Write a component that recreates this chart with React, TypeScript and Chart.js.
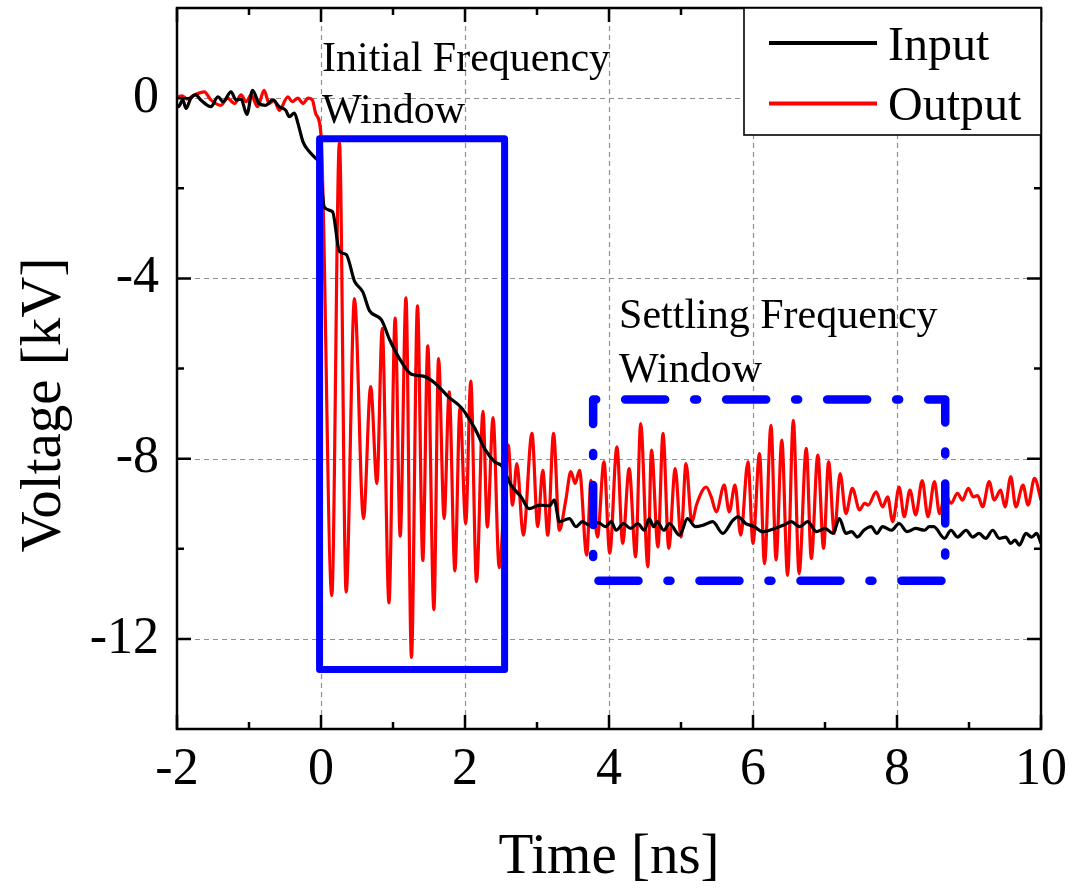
import React, { useEffect, useRef } from 'react';
import { Chart, registerables } from 'chart.js';

Chart.register(...registerables);

const FONT = "'Liberation Serif', 'Times New Roman', Times, serif";

// ---- Data ----
const inputTime = [
  -2.0, -1.98, -1.92, -1.875, -1.81, -1.74, -1.67, -1.53, -1.43, -1.36, -1.25, -1.18, -1.11, -1.03, -0.95,
  -0.86, -0.77, -0.67, -0.58, -0.49, -0.44, -0.37, -0.32, -0.25, -0.16, -0.07, -0.02, 0.046, 0.16, 0.256,
  0.35, 0.465, 0.58, 0.675, 0.84, 0.95, 1.12, 1.256, 1.42, 1.58, 1.77, 1.95, 2.14, 2.28, 2.42, 2.51, 2.64,
  2.78, 2.89, 3.04, 3.17, 3.24, 3.31, 3.45, 3.54, 3.63, 3.72, 3.85, 3.95, 4.03, 4.1, 4.2, 4.3, 4.4, 4.49,
  4.56, 4.62, 4.67, 4.76, 4.84, 4.98, 5.09, 5.2, 5.32, 5.44, 5.58, 5.72, 5.79, 5.9, 6.02, 6.13, 6.3, 6.43,
  6.53, 6.65, 6.76, 6.88, 7.0, 7.11, 7.2, 7.29, 7.37, 7.45, 7.54, 7.64, 7.72, 7.8, 7.92, 8.03, 8.14, 8.26,
  8.38, 8.45, 8.51, 8.66, 8.75, 8.84, 8.96, 9.05, 9.14, 9.23, 9.33, 9.42, 9.51, 9.58, 9.64, 9.7, 9.79, 9.87,
  9.94, 10.0,
];
const inputVoltage = [
  -0.15, -0.19, -0.04, -0.23, -0.01, 0.07, -0.04, -0.19, 0.03, -0.08, 0.14, -0.04, -0.02, -0.36, 0.17,
  -0.12, -0.16, -0.04, -0.19, -0.27, -0.41, -0.33, -0.56, -0.97, -1.19, -1.34, -1.45, -2.42, -2.52, -3.4,
  -3.47, -4.06, -4.3, -4.72, -4.92, -5.35, -5.86, -6.13, -6.17, -6.32, -6.63, -6.87, -7.34, -7.8, -8.08,
  -8.16, -8.59, -8.85, -9.11, -9.03, -9.05, -8.92, -9.4, -9.33, -9.51, -9.4, -9.47, -9.42, -9.51, -9.4,
  -9.59, -9.44, -9.55, -9.44, -9.59, -9.33, -9.51, -9.4, -9.59, -9.44, -9.7, -9.33, -9.51, -9.47, -9.4,
  -9.66, -9.37, -9.29, -9.44, -9.51, -9.62, -9.55, -9.47, -9.4, -9.51, -9.4, -9.62, -9.55, -9.66, -9.33,
  -9.66, -9.62, -9.74, -9.59, -9.51, -9.66, -9.51, -9.59, -9.44, -9.62, -9.55, -9.59, -9.51, -9.51, -9.77,
  -9.59, -9.74, -9.59, -9.74, -9.66, -9.77, -9.59, -9.77, -9.74, -9.88, -9.81, -9.92, -9.66, -9.74, -9.66,
  -9.88,
];

const outputTime = [
  -2.0, -1.93, -1.86, -1.76, -1.62, -1.53, -1.39, -1.3, -1.2, -1.11, -1.04, -0.97, -0.88, -0.79, -0.72,
  -0.65, -0.58, -0.46, -0.4, -0.32, -0.25, -0.18, -0.12, -0.07, 0.0, 0.15, 0.256, 0.349, 0.465, 0.59, 0.69,
  0.777, 0.85, 0.944, 1.03, 1.1, 1.18, 1.256, 1.34, 1.414, 1.483, 1.568, 1.633, 1.71, 1.78, 1.86, 1.93,
  2.01, 2.08, 2.16, 2.25, 2.31, 2.39, 2.475, 2.6, 2.66, 2.72, 2.81, 2.93, 3.01, 3.08, 3.15, 3.23, 3.31,
  3.4, 3.47, 3.53, 3.59, 3.69, 3.75, 3.84, 3.93, 4.01, 4.11, 4.19, 4.28, 4.37, 4.44, 4.54, 4.59, 4.68,
  4.75, 4.83, 4.92, 5.0, 5.07, 5.15, 5.22, 5.35, 5.42, 5.49, 5.6, 5.67, 5.75, 5.83, 5.93, 6.0, 6.09, 6.16,
  6.25, 6.32, 6.4, 6.48, 6.56, 6.64, 6.74, 6.81, 6.9, 6.98, 7.05, 7.13, 7.21, 7.29, 7.38, 7.48, 7.55, 7.6,
  7.71, 7.8, 7.87, 7.94, 8.03, 8.1, 8.18, 8.26, 8.35, 8.43, 8.52, 8.59, 8.67, 8.75, 8.84, 8.91, 8.99, 9.06,
  9.12, 9.19, 9.28, 9.35, 9.44, 9.5, 9.58, 9.65, 9.75, 9.82, 9.91, 10.0,
];
const outputVoltage = [
  0.02, 0.05, -0.02, 0.07, 0.14, -0.04, -0.16, 0.0, -0.12, 0.07, -0.08, 0.07, -0.19, 0.17, -0.12, -0.05,
  -0.27, 0.03, -0.08, 0.0, -0.12, 0.0, -0.04, -0.36, -0.81, -11.04, -0.98, -10.96, -4.45, -9.33, -6.4,
  -8.55, -5.11, -11.2, -4.88, -9.72, -4.43, -12.41, -4.61, -10.26, -5.5, -11.35, -5.78, -9.33, -6.52,
  -10.49, -6.87, -9.44, -6.28, -10.73, -6.95, -9.52, -7.09, -10.42, -7.7, -9.03, -8.11, -9.7, -7.44,
  -9.51, -8.26, -9.7, -7.44, -9.59, -8.92, -8.29, -8.55, -8.26, -10.14, -8.48, -9.74, -8.07, -10.1, -7.74,
  -9.88, -8.22, -10.18, -7.22, -10.4, -7.81, -9.96, -7.44, -9.99, -8.22, -9.74, -8.11, -9.4, -9.0, -8.63,
  -8.85, -9.18, -8.59, -9.18, -8.59, -9.7, -8.07, -9.88, -7.89, -10.33, -7.26, -10.25, -7.59, -10.59,
  -7.15, -10.55, -7.77, -10.22, -7.92, -9.99, -8.07, -9.66, -8.33, -9.22, -8.66, -9.14, -8.99, -9.03,
  -8.74, -9.07, -8.85, -9.4, -8.63, -9.29, -8.7, -9.25, -8.49, -9.29, -8.51, -9.22, -8.8, -8.99, -8.77,
  -8.92, -8.66, -8.85, -8.82, -9.07, -8.51, -8.92, -8.7, -9.07, -8.4, -9.07, -8.59, -9.03, -8.44, -8.92,
];

// Axis ticks
const xMajorTicks = [-2, 0, 2, 4, 6, 8, 10];
const xMinorTicks = [-1, 1, 3, 5, 7, 9];
const yMajorTicks = [0, -4, -8, -12];
const yMinorTicks = [-2, -6, -10];

// Highlighted windows (data coordinates: [start, end])
const initialWindowTime = [-0.02, 2.55];
const initialWindowVoltage = [-0.9, -12.68];
const settlingWindowTime = [3.78, 8.67];
const settlingWindowVoltage = [-6.69, -10.71];

// Texts
const seriesNames = ['Input', 'Output'];
const seriesColors = ['#000000', '#ff0000'];
const initialWindowLabel = ['Initial Frequency', 'Window'];
const settlingWindowLabel = ['Settling Frequency', 'Window'];
const xTitle = 'Time [ns]';
const yTitle = 'Voltage [kV]';

// Label anchors (data coordinates of text baselines)
const initialLabelAnchor = { x: 0.014, y: [0.61, -0.555] };
const settlingLabelAnchor = { x: 4.14, y: [-5.1, -6.29] };

const toPoints = (xs: number[], ys: number[]) => xs.map((x, i) => ({ x, y: ys[i] }));
const rectPoints = (xs: number[], ys: number[]) => [
  { x: xs[0], y: ys[0] },
  { x: xs[1], y: ys[0] },
  { x: xs[1], y: ys[1] },
  { x: xs[0], y: ys[1] },
  { x: xs[0], y: ys[0] },
];

const decorPlugin = {
  id: 'decor',
  beforeDatasetsDraw(chart: any) {
    const { ctx, chartArea: a, scales } = chart;
    const xs = scales.x;
    const ys = scales.y;
    ctx.save();
    ctx.strokeStyle = '#8f8f8f';
    ctx.lineWidth = 1.2;
    ctx.setLineDash([5, 4]);
    ctx.beginPath();
    for (const v of xMajorTicks) {
      const px = Math.round(xs.getPixelForValue(v)) + 0.5;
      if (px <= a.left + 2 || px >= a.right - 2) continue;
      ctx.moveTo(px, a.top);
      ctx.lineTo(px, a.bottom);
    }
    for (const v of yMajorTicks) {
      const py = Math.round(ys.getPixelForValue(v)) + 0.5;
      if (py <= a.top + 2 || py >= a.bottom - 2) continue;
      ctx.moveTo(a.left, py);
      ctx.lineTo(a.right, py);
    }
    ctx.stroke();
    ctx.restore();
  },
  afterDatasetsDraw(chart: any) {
    const { ctx, chartArea: a, scales } = chart;
    const xs = scales.x;
    const ys = scales.y;
    ctx.save();

    // Frame
    ctx.strokeStyle = '#000';
    ctx.lineWidth = 2.5;
    ctx.setLineDash([]);
    ctx.strokeRect(a.left, a.top, a.right - a.left, a.bottom - a.top);

    // Inward ticks on all four sides
    const tick = (vals: number[], len: number) => {
      ctx.beginPath();
      for (const v of vals) {
        const px = xs.getPixelForValue(v);
        ctx.moveTo(px, a.bottom);
        ctx.lineTo(px, a.bottom - len);
        ctx.moveTo(px, a.top);
        ctx.lineTo(px, a.top + len);
      }
      ctx.stroke();
    };
    const ytick = (vals: number[], len: number) => {
      ctx.beginPath();
      for (const v of vals) {
        const py = ys.getPixelForValue(v);
        ctx.moveTo(a.left, py);
        ctx.lineTo(a.left + len, py);
        ctx.moveTo(a.right, py);
        ctx.lineTo(a.right - len, py);
      }
      ctx.stroke();
    };
    ctx.lineWidth = 2.5;
    tick(xMajorTicks, 14);
    tick(xMinorTicks, 7);
    ytick(yMajorTicks, 14);
    ytick(yMinorTicks, 7);

    // Window annotations
    ctx.fillStyle = '#000';
    ctx.font = `42px ${FONT}`;
    ctx.textAlign = 'left';
    ctx.textBaseline = 'alphabetic';
    initialWindowLabel.forEach((t, i) => {
      ctx.fillText(t, xs.getPixelForValue(initialLabelAnchor.x), ys.getPixelForValue(initialLabelAnchor.y[i]));
    });
    settlingWindowLabel.forEach((t, i) => {
      ctx.fillText(t, xs.getPixelForValue(settlingLabelAnchor.x), ys.getPixelForValue(settlingLabelAnchor.y[i]));
    });

    // Legend box
    const lx = a.right - 297;
    const ly = a.top;
    const lw = 297;
    const lh = 127;
    ctx.fillStyle = '#fff';
    ctx.fillRect(lx, ly, lw, lh);
    ctx.strokeStyle = '#000';
    ctx.lineWidth = 1.6;
    ctx.strokeRect(lx, ly, lw, lh);
    ctx.font = `48px ${FONT}`;
    seriesNames.forEach((name, i) => {
      const cy = ly + 35 + i * 60.5;
      ctx.strokeStyle = seriesColors[i];
      ctx.lineWidth = 4;
      ctx.beginPath();
      ctx.moveTo(lx + 25, cy);
      ctx.lineTo(lx + 133, cy);
      ctx.stroke();
      ctx.fillStyle = '#000';
      ctx.fillText(name, lx + 144, cy + 16.5);
    });

    // Y-axis title
    ctx.save();
    ctx.font = `57px ${FONT}`;
    ctx.fillStyle = '#000';
    ctx.textAlign = 'center';
    ctx.textBaseline = 'alphabetic';
    ctx.translate(60, 405);
    ctx.rotate(-Math.PI / 2);
    ctx.fillText(yTitle, 0, 0);
    ctx.restore();

    ctx.restore();
  },
};

export default function App() {
  const ref = useRef<HTMLCanvasElement>(null);

  useEffect(() => {
    const canvas = ref.current;
    if (!canvas) return;
    const chart = new Chart(canvas, {
      type: 'line',
      data: {
        datasets: [
          {
            label: 'Initial Frequency Window',
            data: rectPoints(initialWindowTime, initialWindowVoltage),
            borderColor: '#0000ff',
            borderWidth: 7,
            pointRadius: 0,
            tension: 0,
            borderJoinStyle: 'round',
            borderCapStyle: 'round',
            fill: false,
            clip: false,
          },
          {
            label: 'Settling Frequency Window',
            data: rectPoints(settlingWindowTime, settlingWindowVoltage),
            borderColor: '#0000ff',
            borderWidth: 8.5,
            borderDash: [3, 29, 40, 29],
            pointRadius: 0,
            tension: 0,
            borderJoinStyle: 'round',
            borderCapStyle: 'round',
            fill: false,
            clip: false,
          },
          {
            label: seriesNames[0],
            data: toPoints(inputTime, inputVoltage),
            borderColor: seriesColors[0],
            borderWidth: 3.2,
            pointRadius: 0,
            cubicInterpolationMode: 'monotone',
            fill: false,
          },
          {
            label: seriesNames[1],
            data: toPoints(outputTime, outputVoltage),
            borderColor: seriesColors[1],
            borderWidth: 3.2,
            pointRadius: 0,
            cubicInterpolationMode: 'monotone',
            fill: false,
          },
        ] as any,
      },
      options: {
        animation: false,
        responsive: false,
        devicePixelRatio: 1,
        layout: { padding: { left: 0, right: 28, top: 8, bottom: 0 } },
        plugins: {
          legend: { display: false },
          tooltip: { enabled: false },
        },
        scales: {
          x: {
            type: 'linear',
            min: -2,
            max: 10,
            afterBuildTicks: (s: any) => {
              s.ticks = xMajorTicks.map((value) => ({ value }));
            },
            afterFit: (s: any) => {
              s.height = 161;
              s.paddingLeft = 0;
              s.paddingRight = 0;
              s.paddingTop = 0;
              s.paddingBottom = 0;
            },
            grid: { display: false, drawTicks: false },
            border: { display: false },
            ticks: {
              color: '#000',
              font: { family: FONT, size: 52 },
              padding: 10,
              maxRotation: 0,
              autoSkip: false,
              callback: (v: any) => String(v),
            },
            title: {
              display: true,
              text: xTitle,
              color: '#000',
              font: { family: FONT, size: 57, lineHeight: 1.1 },
              padding: { top: 0, bottom: 1 },
            },
          },
          y: {
            type: 'linear',
            min: -14,
            max: 2,
            afterBuildTicks: (s: any) => {
              s.ticks = yMajorTicks.map((value) => ({ value }));
            },
            afterFit: (s: any) => {
              s.width = 177;
              s.paddingLeft = 0;
              s.paddingRight = 0;
              s.paddingTop = 0;
              s.paddingBottom = 0;
            },
            grid: { display: false, drawTicks: false },
            border: { display: false },
            ticks: {
              color: '#000',
              font: { family: FONT, size: 52 },
              padding: 18,
              autoSkip: false,
              callback: (v: any) => String(v),
            },
          },
        },
      } as any,
      plugins: [decorPlugin],
    });
    return () => chart.destroy();
  }, []);

  return (
    <div style={{ position: 'absolute', left: 0, top: 0, width: 1069, height: 890, background: '#fff' }}>
      <canvas ref={ref} width={1069} height={890} style={{ display: 'block', width: 1069, height: 890 }} />
    </div>
  );
}
